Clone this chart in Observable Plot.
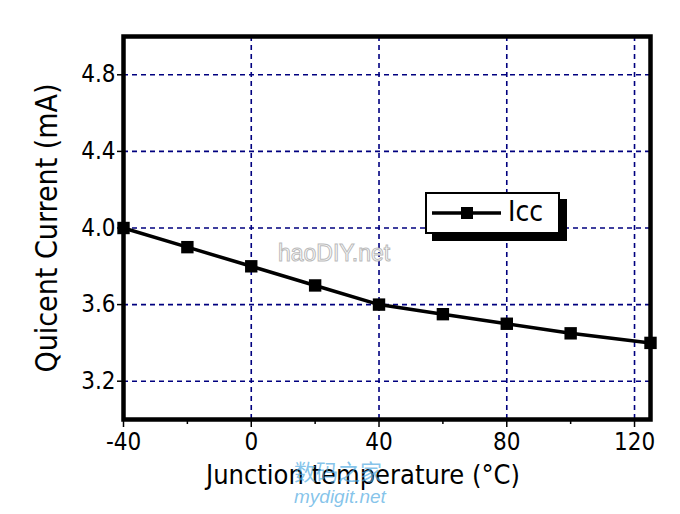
<!DOCTYPE html>
<html>
<head>
<meta charset="utf-8">
<script src="https://cdn.jsdelivr.net/npm/d3@7"></script>
<script src="https://cdn.jsdelivr.net/npm/@observablehq/plot@0.6"></script>
<style>
  html, body { margin: 0; padding: 0; background: #fff; }
  #wrap { position: relative; width: 680px; height: 514px; overflow: hidden; }
  .fnt { font-family: "Liberation Sans Narrow", "DejaVu Sans Condensed", "Liberation Sans", sans-serif; }
  #legend { position: absolute; left: 425px; top: 192px; width: 131px; height: 38px;
    background: #fff; border: 2px solid #000; box-shadow: 7px 7px 0 #000; }
  #legend svg { position: absolute; left: 0; top: 0; }
  #legend span { position: absolute; left: 81px; top: 1px; font-size: 28px; color: #000; }
  .wm { position: absolute; pointer-events: none; }
</style>
</head>
<body>
<div id="wrap" class="fnt"></div>
<script>
const temps = [-40, -20, 0, 20, 40, 60, 80, 100, 125];
const icc = [4.0, 3.9, 3.8, 3.7, 3.6, 3.55, 3.5, 3.45, 3.4];
const xTicks = [-40, 0, 40, 80, 120];
const xMinorTicks = [-20, 20, 60, 100];
const xGrid = [0, 40, 80, 120];
const yTicks = [3.2, 3.6, 4.0, 4.4, 4.8];
const seriesName = "Icc";
const xLabel = "Junction temperature (\u00B0C)";
const yLabel = "Quicent Current (mA)";

const data = temps.map((t, i) => ({t, v: icc[i]}));
const fontFam = '"Liberation Sans Narrow", "DejaVu Sans Condensed", "Liberation Sans", sans-serif';

const chart = Plot.plot({
  width: 680,
  height: 514,
  marginLeft: 123,
  marginRight: 30,
  marginTop: 36,
  marginBottom: 95,
  style: {fontFamily: fontFam, fontSize: "24px", color: "#000", background: "#fff"},
  x: {domain: [-40, 125]},
  y: {domain: [3.0, 5.0]},
  marks: [
    Plot.ruleX(xGrid, {stroke: "#00007f", strokeWidth: 1.6, strokeDasharray: "5,4"}),
    Plot.ruleY(yTicks, {stroke: "#00007f", strokeWidth: 1.6, strokeDasharray: "5,4"}),
    Plot.line(data, {x: "t", y: "v", stroke: "#000", strokeWidth: 3.5}),
    Plot.dot(data, {x: "t", y: "v", symbol: "square", r: 7, fill: "#000", stroke: "none"}),
    Plot.frame({stroke: "#000", strokeWidth: 4.5}),
    Plot.axisY({ticks: yTicks, tickFormat: d3.format(".1f"), tickSize: 6, tickPadding: 2, strokeWidth: 1.5, fontSize: 24, label: null}),
    Plot.axisX({ticks: xTicks, tickFormat: d => String(d), tickSize: 8, tickPadding: 5, strokeWidth: 1.5, fontSize: 24, label: null}),
    Plot.axisX({ticks: xMinorTicks, tickSize: 5, tickFormat: () => "", strokeWidth: 1.5, label: null}),
    Plot.text([yLabel], {frameAnchor: "left", textAnchor: "middle", dx: -76, rotate: -90, fontSize: 30, fill: "#000"}),
    Plot.text([xLabel], {frameAnchor: "bottom", dx: -24, dy: 64, fontSize: 27, fill: "#000"})
  ]
});
const wrap = document.getElementById("wrap");
wrap.appendChild(chart);

// legend
const leg = document.createElement("div");
leg.id = "legend";
leg.className = "fnt";
leg.innerHTML = `<svg width="80" height="38"><line x1="5" y1="19" x2="74" y2="19" stroke="#000" stroke-width="3.5"/><rect x="34" y="13" width="12" height="12" fill="#000"/></svg><span>${seriesName}</span>`;
wrap.appendChild(leg);

// watermarks
const wm1 = document.createElement("div");
wm1.className = "wm";
wm1.style.cssText = "left:278px;top:240px;font-family:'Liberation Sans',sans-serif;font-size:23px;color:#fff;-webkit-text-stroke:1px #bbb;";
wm1.textContent = "haoDIY.net";
wrap.appendChild(wm1);
const wm2 = document.createElement("div");
wm2.className = "wm";
wm2.style.cssText = "left:294px;top:459px;font-family:'Noto Sans CJK SC',sans-serif;font-size:22px;line-height:23px;color:rgba(80,170,225,0.7);";
wm2.innerHTML = "数码之家<br><i style='font-family:Liberation Sans,sans-serif;font-size:19px'>mydigit.net</i>";
wrap.appendChild(wm2);
</script>
</body>
</html>
